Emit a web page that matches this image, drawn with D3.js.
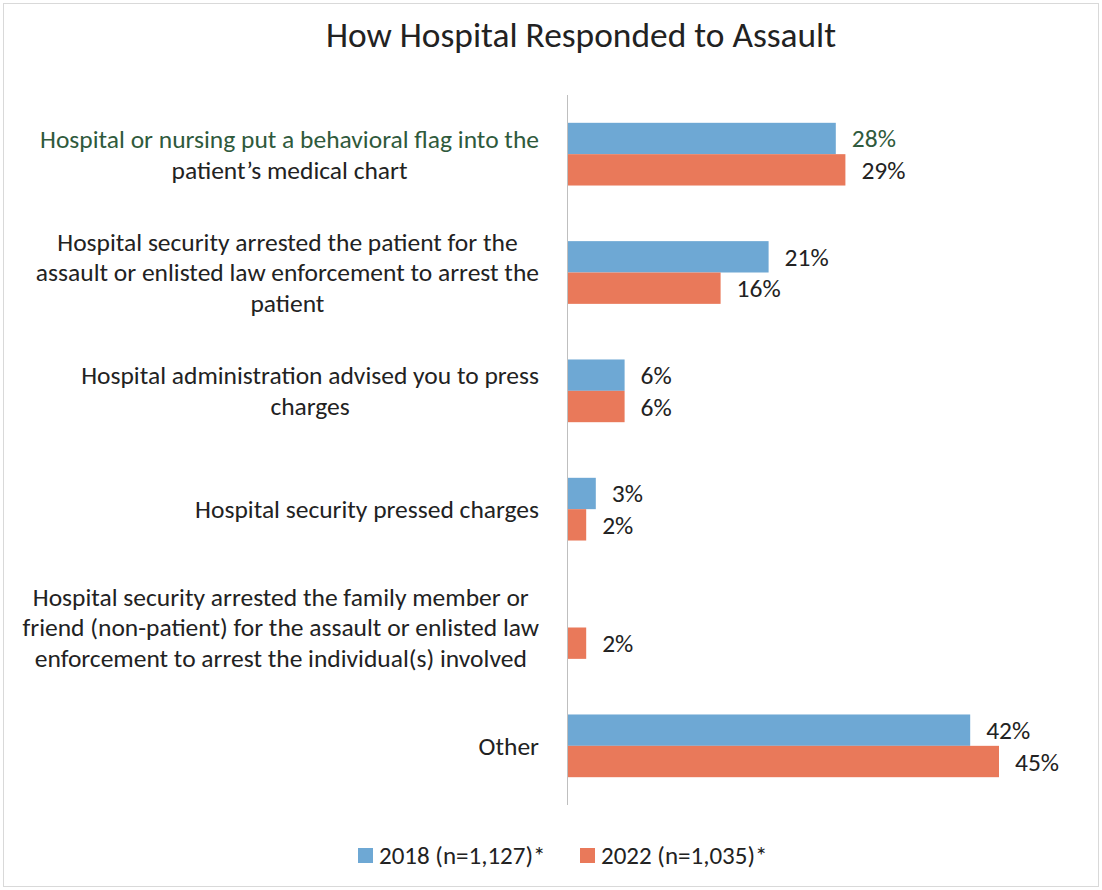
<!DOCTYPE html>
<html>
<head>
<meta charset="utf-8">
<script src="https://cdn.jsdelivr.net/npm/d3@7"></script>
<style>
  html, body { margin: 0; padding: 0; background: #fff; }
  svg { display: block; }
  text { font-family: Carlito, Lato, "Open Sans", sans-serif; fill: #222; }
</style>
</head>
<body>
<svg id="chart" width="1102" height="890"></svg>
<script>
// Responses (percent of respondents) by survey year
const categories = [
  ["Hospital or nursing put a behavioral flag into the", "patient\u2019s medical chart"],
  ["Hospital security arrested the patient for the", "assault or enlisted law enforcement to arrest the", "patient"],
  ["Hospital administration advised you to press", "charges"],
  ["Hospital security pressed charges"],
  ["Hospital security arrested the family member or", "friend (non-patient) for the assault or enlisted law", "enforcement to arrest the individual(s) involved"],
  ["Other"]
];
const values2018 = [28, 21, 6, 3, null, 42];
const values2022 = [29, 16, 6, 2, 2, 45];
const seriesNames = ["2018 (n=1,127)*", "2022 (n=1,035)*"];
const seriesColors = ["#6ea8d4", "#e9795a"];
const chartTitle = "How Hospital Responded to Assault";

const svg = d3.select("#chart");
const W = 1102, H = 890;

// light frame around the chart area
svg.append("rect")
  .attr("x", 3.5).attr("y", 3.5)
  .attr("width", W - 7).attr("height", H - 7)
  .attr("fill", "none").attr("stroke", "#d9d9d9");

svg.append("text")
  .attr("x", 581).attr("y", 47)
  .attr("text-anchor", "middle")
  .style("font-size", "35.4px")
  .text(chartTitle);

const x = d3.scaleLinear().domain([0, 50]).range([567, 1047]);
const y = d3.scaleBand().domain(d3.range(categories.length)).range([95, 805]).paddingInner(0.47).paddingOuter(0.235);
const sub = d3.scaleBand().domain([0, 1]).range([0, y.bandwidth()]);

const rows = categories.map((c, i) => ({ i, lines: c, vals: [values2018[i], values2022[i]] }));

const g = svg.append("g");
const grp = g.selectAll("g.row").data(rows).join("g")
  .attr("class", "row")
  .attr("transform", d => `translate(0,${y(d.i)})`);

grp.selectAll("rect")
  .data(d => d.vals.map((v, s) => ({ v, s })).filter(e => e.v != null))
  .join("rect")
  .attr("x", x(0))
  .attr("y", e => sub(e.s))
  .attr("width", e => x(e.v) - x(0))
  .attr("height", sub.bandwidth())
  .attr("fill", e => seriesColors[e.s]);

grp.selectAll("text.val")
  .data(d => d.vals.map((v, s) => ({ v, s, i: d.i })).filter(e => e.v != null))
  .join("text")
  .attr("class", "val")
  .attr("x", e => x(e.v) + 16)
  .attr("y", e => sub(e.s) + sub.bandwidth() / 2 + 9)
  .style("font-size", "25.5px")
  .style("fill", e => (e.i === 0 && e.s === 0) ? "#2f5a3c" : "#222")
  .text(e => e.v + "%");

// category labels: lines centred on each other, block right-aligned to the axis
const lineH = 31;
const labelRight = 539;
grp.each(function(d) {
  const n = d.lines.length;
  const cy = y.bandwidth() / 2;
  const t = d3.select(this).append("text")
    .attr("text-anchor", "middle")
    .style("font-size", "25.5px");
  const spans = d.lines.map((ln, k) => t.append("tspan")
    .attr("y", cy + (k - (n - 1) / 2) * lineH + 9)
    .style("fill", (d.i === 0 && k === 0) ? "#2f5a3c" : "#222")
    .text(ln));
  const maxW = d3.max(spans, s => s.node().getComputedTextLength());
  spans.forEach(s => s.attr("x", labelRight - maxW / 2));
});

// vertical category axis line
svg.append("line")
  .attr("x1", x(0) + 0.5).attr("x2", x(0) + 0.5)
  .attr("y1", 95).attr("y2", 805)
  .attr("stroke", "#bfbfbf").attr("stroke-width", 1);

// legend
const legend = svg.append("g").attr("transform", "translate(358,855)");
const legX = [0, 222];
seriesNames.forEach((name, s) => {
  const lg = legend.append("g").attr("transform", `translate(${legX[s]},0)`);
  lg.append("rect").attr("x", 0).attr("y", -7).attr("width", 15).attr("height", 15).attr("fill", seriesColors[s]);
  lg.append("text").attr("x", 21).attr("y", 9).style("font-size", "25px").text(name);
});
</script>
</body>
</html>
